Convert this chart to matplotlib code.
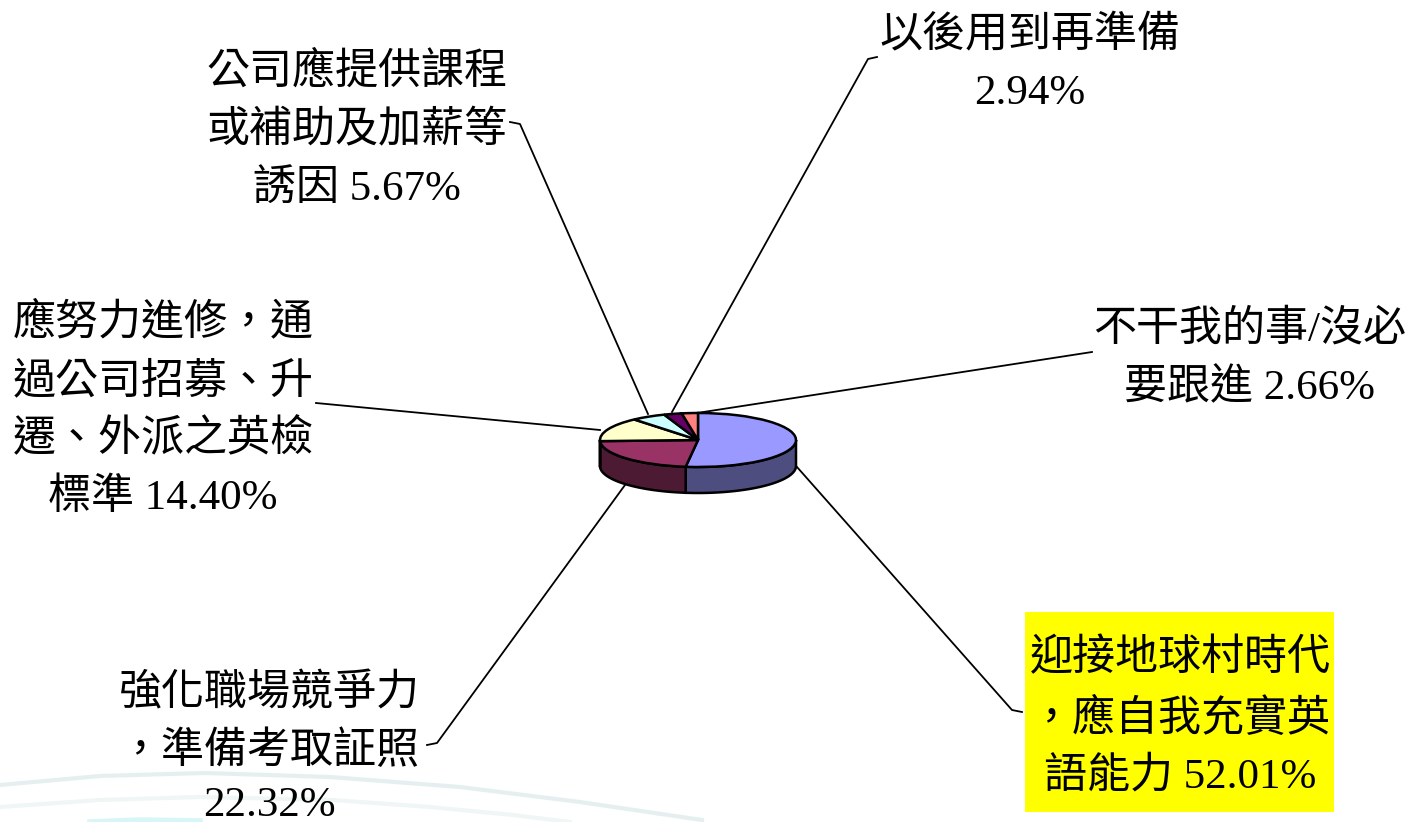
import numpy as np
from matplotlib import pyplot as plt

W, H = 1406, 822

values = [52.01, 22.32, 14.40, 5.67, 2.94, 2.66]
top_colors = ['#9999ff', '#993366', '#ffffcc', '#ccffff', '#660066', '#ff8080']
side_colors = ['#4d4d80', '#4d1a33', '#80805f', '#608080', '#330033', '#804040']

label_lines = [
    ['迎接地球村時代', '\uff0c應自我充實英', '語能力 52.01%'],
    ['強化職場競爭力', '\uff0c準備考取証照', '22.32%'],
    ['應努力進修\uff0c通', '過公司招募、升', '遷、外派之英檢', '標準 14.40%'],
    ['公司應提供課程', '或補助及加薪等', '誘因 5.67%'],
    ['以後用到再準備', '2.94%'],
    ['不干我的事/沒必', '要跟進 2.66%'],
]
label_x = [1180, 269, 163, 357, 1030, 1250]
label_y = [[659, 719, 777], [694, 752, 806], [323, 382, 440, 498],
           [72, 131, 189], [36, 94], [330, 388]]
leader_x = [[1022, 1012, 797], [427, 437, 625], [316, 600],
            [510, 520, 648], [877, 868, 672], [1092, 697]]
leader_y = [[712, 710, 467], [745, 743, 485], [403, 430],
            [122, 124, 414], [57, 59, 412], [352, 413]]

# faint arcs from the slide background
arc1_x = [0, 100, 205, 330, 460, 580, 702]
arc1_y = [785, 776, 773, 777, 787, 802, 820]
arc2_x = [0, 100, 200, 333, 430, 513, 570]
arc2_y = [807, 800, 797, 800, 807, 815, 822]
arc3_x = [90, 140, 200]
arc3_y = [822, 820, 821]

plt.rcParams['font.family'] = ['Liberation Serif', 'Noto Sans CJK TC']

fig = plt.figure(figsize=(W / 100, H / 100), dpi=100)
ax = fig.add_axes([0, 0, 1, 1])
ax.set_xlim(0, W)
ax.set_ylim(H, 0)
ax.axis('off')

ax.plot(arc1_x, arc1_y, color='#e6efef', lw=3, zorder=0)
ax.plot(arc2_x, arc2_y, color='#f0f6f6', lw=3, zorder=0)
ax.plot(arc3_x, arc3_y, color='#d8f6f8', lw=4, zorder=0)

# yellow highlight behind the biggest label
ax.fill_between([1025, 1334], 612, 812, color='#ffff00', lw=0, zorder=1)

for xs, ys in zip(leader_x, leader_y):
    ax.plot(xs, ys, color='black', lw=1.3, zorder=2)

for lines, x, ys in zip(label_lines, label_x, label_y):
    for line, y in zip(lines, ys):
        ax.text(x, y, line, fontsize=31, ha='center', va='center', color='black', zorder=3)

# pie axes: one data unit is rx pixels across and ry pixels down, so the circle becomes an ellipse
cx, cy, rx, ry, depth = 698, 440, 98, 27, 26
left, right = -1.25, 1.25
bottom, top = -2.5, 1.25
pie_ax = fig.add_axes([(cx + left * rx) / W, 1 - (cy - bottom * ry) / H,
                       (right - left) * rx / W, (top - bottom) * ry / H])
pie_ax.pie(values, colors=top_colors, startangle=90, counterclock=False,
           wedgeprops={'edgecolor': 'black', 'linewidth': 1.8})
pie_ax.set_aspect('auto')
pie_ax.set_xlim(left, right)
pie_ax.set_ylim(bottom, top)
pie_ax.patch.set_alpha(0)

# side wall of the visible lower half
edges = 90 - 360 * np.cumsum([0] + values) / sum(values)
d = depth / ry
for i in range(len(values)):
    a0 = max(edges[i + 1], -180)
    a1 = min(edges[i], 0)
    if a0 >= a1:
        continue
    t = np.radians(np.linspace(a0, a1, 60))
    px = np.concatenate([np.cos(t), np.cos(t[::-1])])
    py = np.concatenate([np.sin(t), np.sin(t[::-1]) - d])
    pie_ax.fill(px, py, facecolor=side_colors[i], edgecolor='black', lw=1.8, zorder=0.5)

fig.savefig('out.png', dpi=100)
